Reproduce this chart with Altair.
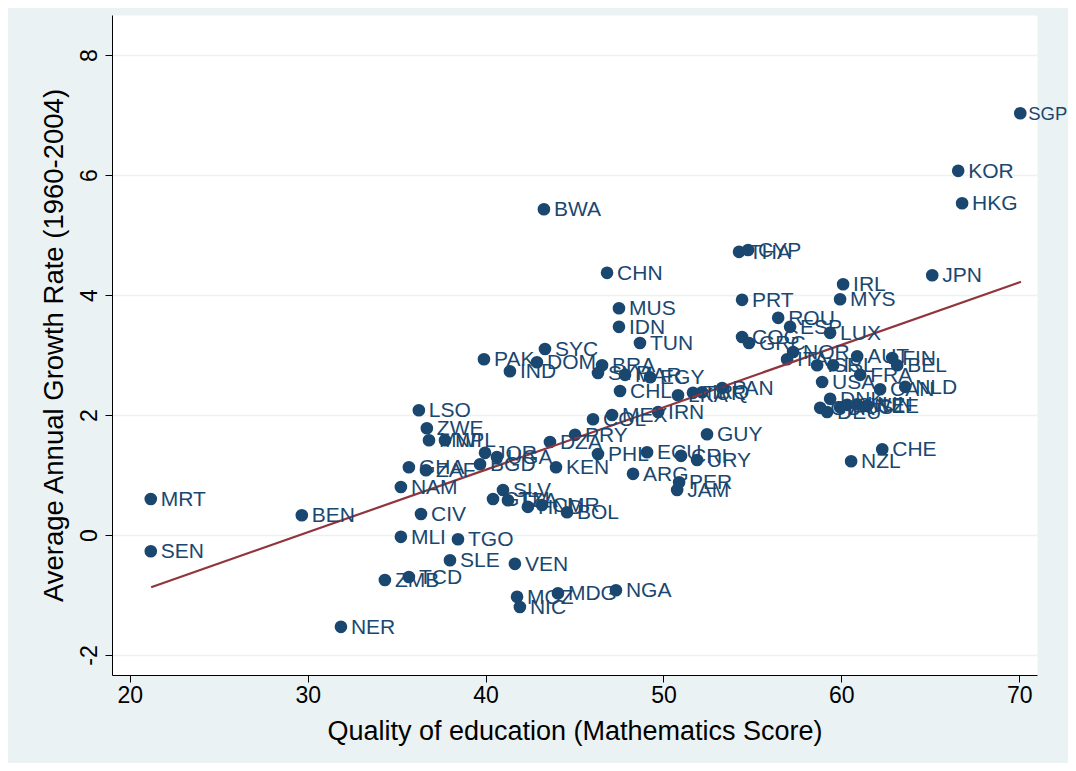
import altair as alt
import pandas as pd

codes = ["SGP","KOR","HKG","JPN","BWA","CHN","THA","CYP","IRL","MYS","PRT","ROU","ESP","LUX","COG","GRC",
         "NOR","ITA","ISR","ISL","AUT","FRA","FIN","BEL","USA","CAN","NLD","DNK","GBR","DEU","AUS","SWE","HUN","CZE",
         "CHE","NZL",
         "MRT","SEN","BEN","NER","ZMB","TCD","MLI","TGO","SLE","VEN","MOZ","NIC","MDG","NGA","CIV","NAM","GHA","ZAF",
         "LSO","ZWE","MWI","NPL","JOR","UGA","BGD","KEN","DZA","PRY","COL","MEX","IRN","PHL","ECU","CRI","URY","ARG",
         "GUY","PER","JAM","SLV","GTM","TZA","HND","CMR","BOL","CHL","BRA","SYR","MAR","EGY","TUN","IDN","MUS","SYC",
         "PAK","DOM","IND","LKA","TUR","IRQ","PAN"]
math_score = [70.06,66.57,66.79,65.11,43.28,46.83,54.25,54.76,60.10,59.93,54.42,56.45,57.12,59.37,54.42,54.81,
              57.29,56.95,58.64,59.54,60.89,61.06,62.86,63.14,58.92,62.18,63.59,59.37,58.81,59.20,59.93,60.33,60.89,61.45,
              62.30,60.55,
              21.18,21.18,29.67,31.87,34.34,35.69,35.24,38.45,38.00,41.65,41.77,41.93,44.07,47.33,36.37,35.24,35.69,36.65,
              36.25,36.70,36.82,37.72,39.97,40.64,39.69,43.96,43.62,45.03,46.04,47.11,49.70,46.32,49.08,50.99,51.89,48.29,
              52.45,50.88,50.77,40.98,40.42,41.26,42.38,43.17,44.58,47.56,46.55,46.32,47.84,49.25,48.68,47.50,47.50,43.34,
              39.91,42.89,41.37,50.82,51.66,52.17,53.30]
growth = [7.03,6.07,5.53,4.33,5.43,4.37,4.72,4.75,4.18,3.93,3.92,3.62,3.47,3.37,3.30,3.20,
          3.05,2.93,2.83,2.83,2.98,2.67,2.95,2.83,2.55,2.43,2.47,2.27,2.12,2.05,2.13,2.17,2.18,2.15,
          1.43,1.23,
          0.60,-0.27,0.33,-1.53,-0.75,-0.70,-0.03,-0.07,-0.42,-0.48,-1.03,-1.20,-0.97,-0.92,0.35,0.80,1.13,1.08,
          2.08,1.78,1.58,1.58,1.37,1.30,1.18,1.13,1.55,1.67,1.93,2.00,2.05,1.35,1.38,1.32,1.25,1.02,
          1.68,0.88,0.75,0.75,0.60,0.58,0.47,0.50,0.38,2.40,2.83,2.70,2.67,2.63,3.20,3.47,3.78,3.10,
          2.93,2.88,2.73,2.33,2.37,2.38,2.45]

fit_x = [21.2, 70.1]
fit_y = [-0.87, 4.22]

df = pd.DataFrame({"code": codes, "math": math_score, "growth": growth})
fit = pd.DataFrame({"math": fit_x, "growth": fit_y})

navy = "#1A476F"
font = "Liberation Sans"

xscale = alt.Scale(domain=[19, 71], nice=False, zero=False)
yscale = alt.Scale(domain=[-2.333, 8.667], nice=False, zero=False)

xaxis = alt.Axis(values=[20, 30, 40, 50, 60, 70], grid=False, labelExpr="'' + datum.value",
                 title="Quality of education (Mathematics Score)",
                 domainColor="black", tickColor="black", tickSize=7, labelFontSize=23, titleFontSize=27,
                 labelFont=font, titleFont=font, labelColor="black", titleColor="black", titleFontWeight="normal",
                 labelPadding=2, titlePadding=11)
yaxis = alt.Axis(values=[-2, 0, 2, 4, 6, 8], grid=True, gridColor="#EAF2F3", gridWidth=1.5,
                 labelExpr="'' + datum.value",
                 title="Average Annual Growth Rate (1960-2004)",
                 domainColor="black", tickColor="black", tickSize=7, labelFontSize=23, titleFontSize=27.5,
                 labelFont=font, titleFont=font, labelColor="black", titleColor="black", titleFontWeight="normal",
                 labelAngle=270, labelAlign="center", labelBaseline="bottom", labelPadding=4, titlePadding=10)

base = alt.Chart(df)
enc = dict(x=alt.X("math:Q", scale=xscale), y=alt.Y("growth:Q", scale=yscale), text="code:N")

points = base.mark_circle(size=160, opacity=1, color=navy).encode(
    x=alt.X("math:Q", scale=xscale, axis=xaxis),
    y=alt.Y("growth:Q", scale=yscale, axis=yaxis),
)

labels = base.transform_filter("datum.math < 69").mark_text(
    align="left", baseline="middle", dx=10, dy=1, fontSize=21, font=font, color=navy).encode(**enc)

# label at the right edge: slightly tighter so it stays inside the canvas
edge_labels = base.transform_filter("datum.math >= 69").mark_text(
    align="left", baseline="middle", dx=8, dy=1, fontSize=18.5, font=font, color=navy).encode(**enc)

line = alt.Chart(fit).mark_line(color="#90353B", strokeWidth=2.2).encode(
    x=alt.X("math:Q", scale=xscale),
    y=alt.Y("growth:Q", scale=yscale),
)

chart = alt.layer(points, line, labels, edge_labels).properties(
    width=925, height=660,
    background="#EAF2F3",
    padding={"left": 104, "top": 7, "right": 31, "bottom": 88},
    autosize=alt.AutoSizeParams(type="none"),
).configure_view(fill="white", stroke="transparent")

chart.save("out.html", embed_options={"renderer": "svg", "actions": False})
